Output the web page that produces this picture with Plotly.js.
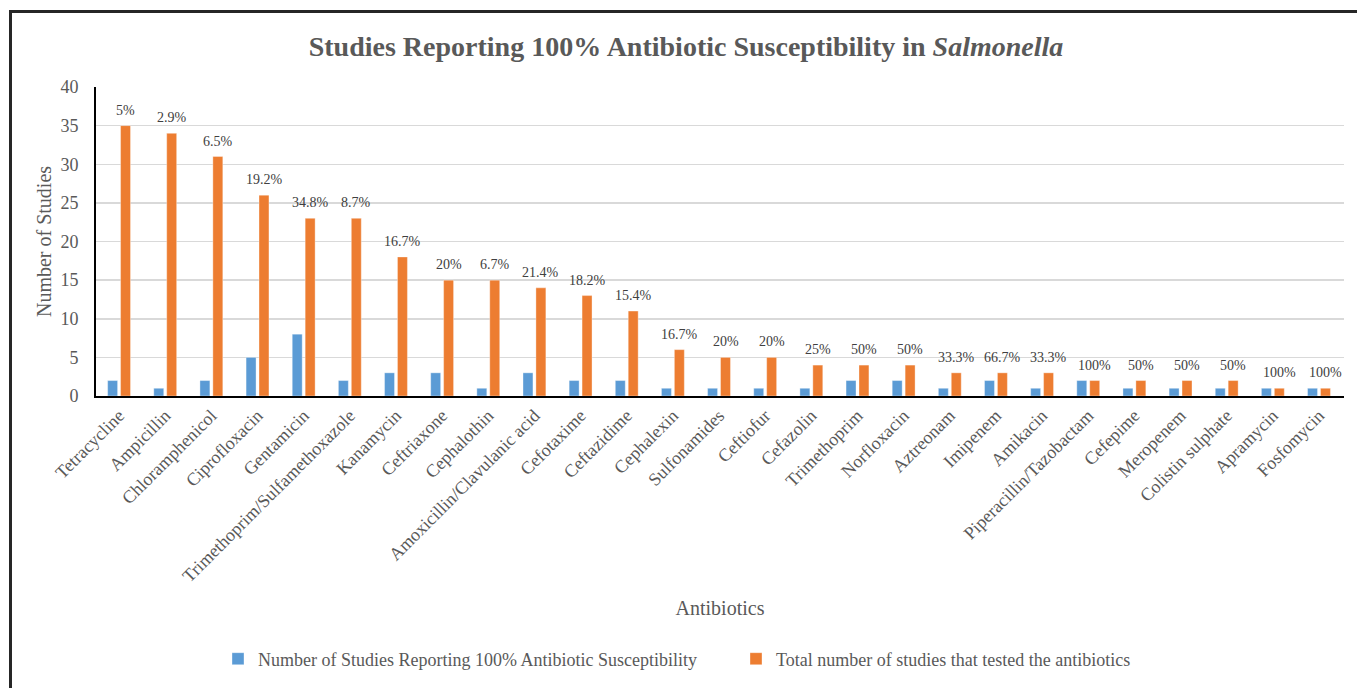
<!DOCTYPE html>
<html>
<head>
<meta charset="utf-8">
<script src="https://cdn.plot.ly/plotly-3.0.1.min.js"></script>
<style>
  html, body { margin: 0; padding: 0; background: #ffffff; }
  #wrap { position: relative; width: 1357px; height: 688px; overflow: hidden; }
  #chart { position: absolute; left: 0; top: 0; width: 1357px; height: 688px; }
  #frame { position: absolute; left: 9px; top: 10px; width: 1360px; height: 690px;
           border-left: 3px solid #262626; border-top: 3px solid #262626; pointer-events: none; }
</style>
</head>
<body>
<div id="wrap">
  <div id="chart"></div>
  <div id="frame"></div>
</div>
<script>
const antibiotics = [
  "Tetracycline", "Ampicillin", "Chloramphenicol", "Ciprofloxacin", "Gentamicin",
  "Trimethoprim/Sulfamethoxazole", "Kanamycin", "Ceftriaxone", "Cephalothin",
  "Amoxicillin/Clavulanic acid", "Cefotaxime", "Ceftazidime", "Cephalexin",
  "Sulfonamides", "Ceftiofur", "Cefazolin", "Trimethoprim", "Norfloxacin",
  "Aztreonam", "Imipenem", "Amikacin", "Piperacillin/Tazobactam", "Cefepime",
  "Meropenem", "Colistin sulphate", "Apramycin", "Fosfomycin"
];
const studies100 = [2, 1, 2, 5, 8, 2, 3, 3, 1, 3, 2, 2, 1, 1, 1, 1, 2, 2, 1, 2, 1, 2, 1, 1, 1, 1, 1];
const totalStudies = [35, 34, 31, 26, 23, 23, 18, 15, 15, 14, 13, 11, 6, 5, 5, 4, 4, 4, 3, 3, 3, 2, 2, 2, 2, 1, 1];
const pctLabels = ["5%", "2.9%", "6.5%", "19.2%", "34.8%", "8.7%", "16.7%", "20%", "6.7%", "21.4%",
  "18.2%", "15.4%", "16.7%", "20%", "20%", "25%", "50%", "50%", "33.3%", "66.7%", "33.3%",
  "100%", "50%", "50%", "50%", "100%", "100%"];

const seriesNames = [
  "Number of Studies Reporting 100% Antibiotic Susceptibility",
  "Total number of studies that tested the antibiotics"
];

const SERIF = 'Liberation Serif';
const GREY = '#595959';

const traces = [
  {
    type: 'bar', name: seriesNames[0], x: antibiotics, y: studies100,
    marker: { color: '#5B9BD5', line: { color: 'rgba(255,255,255,0.35)', width: 1 } },
    hoverinfo: 'x+y'
  },
  {
    type: 'bar', name: seriesNames[1], x: antibiotics, y: totalStudies,
    marker: { color: '#ED7D31', line: { color: 'rgba(255,255,255,0.35)', width: 1 } },
    hoverinfo: 'x+y'
  }
];

const annotations = antibiotics.map((a, i) => ({
  x: a, y: totalStudies[i], xref: 'x', yref: 'y',
  text: pctLabels[i], showarrow: false,
  xanchor: 'center', yanchor: 'bottom', xshift: 6.5, yshift: 6,
  font: { family: SERIF, size: 14, color: '#404040' }
}));

const layout = {
  width: 1357, height: 688,
  paper_bgcolor: '#ffffff', plot_bgcolor: '#ffffff',
  margin: { l: 96, r: 13, t: 87, b: 292, autoexpand: false },
  font: { family: SERIF, color: GREY, size: 18 },
  title: {
    text: '<b>Studies Reporting 100% Antibiotic Susceptibility in <i>Salmonella</i></b>',
    font: { family: SERIF, size: 28, color: GREY, weight: 'bold' },
    xref: 'container', x: 686 / 1357, xanchor: 'center',
    yref: 'container', y: 1 - 46 / 688, yanchor: 'middle'
  },
  bargap: 0.44, bargroupgap: 0.23,
  xaxis: {
    type: 'category', tickangle: -45, automargin: false,
    tickfont: { family: SERIF, size: 18, color: GREY },
    showline: true, linecolor: '#000000', linewidth: 2,
    ticks: '', showgrid: false,
    title: { text: 'Antibiotics', font: { family: SERIF, size: 20, color: GREY }, standoff: 16 }
  },
  yaxis: {
    range: [0, 40], dtick: 5, automargin: false,
    tickfont: { family: SERIF, size: 18, color: GREY },
    showline: true, linecolor: '#000000', linewidth: 2,
    gridcolor: '#D9D9D9', gridwidth: 1.5, zeroline: false,
    ticks: '', ticklabelstandoff: 12,
    title: { text: 'Number of Studies', font: { family: SERIF, size: 20, color: GREY }, standoff: 3 }
  },
  showlegend: true,
  legend: {
    orientation: 'h', xref: 'container', yref: 'container',
    x: 218 / 1357, xanchor: 'left', y: 1 - 659 / 688, yanchor: 'middle',
    font: { family: SERIF, size: 18, color: GREY },
    entrywidth: 473, entrywidthmode: 'pixels',
    traceorder: 'normal', bgcolor: 'rgba(0,0,0,0)'
  },
  annotations: annotations
};

Plotly.newPlot('chart', traces, layout, { displayModeBar: false, staticPlot: true });
</script>
</body>
</html>
